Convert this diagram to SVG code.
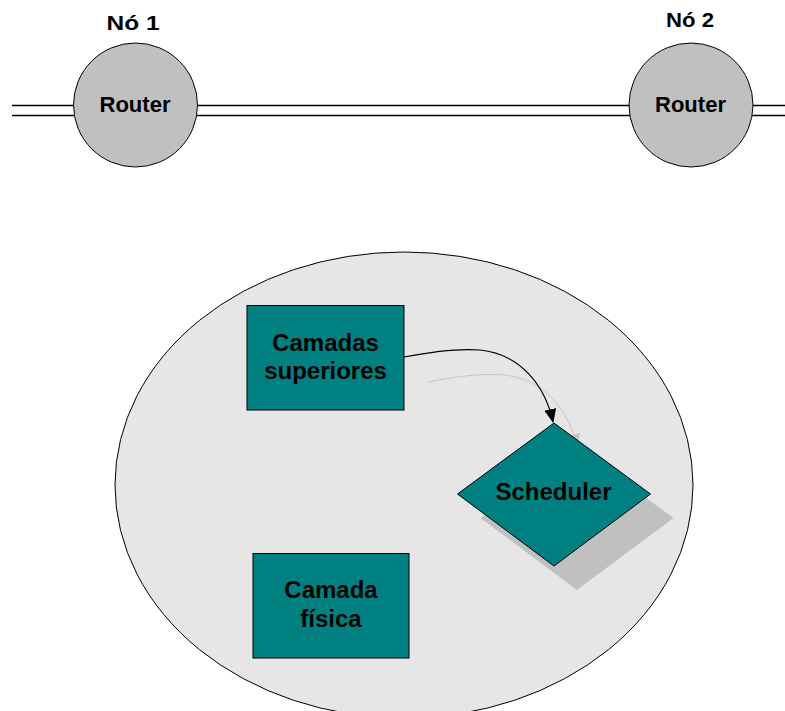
<svg xmlns="http://www.w3.org/2000/svg" width="785" height="711" viewBox="0 0 785 711">
  <defs>
    <style>
      .lbl { font-family: "Liberation Sans", Arial, sans-serif; font-weight: bold; fill: #000; text-anchor: middle; }
      .router { fill: #c0c0c0; stroke: #000; stroke-width: 1; }
      .block { fill: #008080; stroke: #000; stroke-width: 1; }
      .link { stroke: #000; stroke-width: 1.5; fill: none; }
    </style>
    <marker id="arrowBlack" viewBox="0 0 14 12" refX="13" refY="6" markerWidth="14" markerHeight="12" markerUnits="userSpaceOnUse" orient="auto">
      <path d="M0,0 L14,6 L0,12 Z" fill="#000"/>
    </marker>
    <marker id="arrowShade" viewBox="0 0 14 12" refX="13" refY="6" markerWidth="14" markerHeight="12" markerUnits="userSpaceOnUse" orient="auto">
      <path d="M0,0 L14,6 L0,12 Z" fill="#c4c4c4"/>
    </marker>
  </defs>

  <rect width="785" height="711" fill="#fff"/>

  <!-- double line network link -->
  <g id="network-link">
    <line class="link" x1="12" y1="105.5" x2="785" y2="105.5"/>
    <line class="link" x1="12" y1="115.5" x2="785" y2="115.5"/>
  </g>

  <g id="node1">
    <circle class="router" cx="135.5" cy="105" r="62"/>
    <text class="lbl" x="133" y="30" font-size="20" textLength="53" lengthAdjust="spacingAndGlyphs">Nó 1</text>
    <text class="lbl" x="135" y="112" font-size="22" textLength="71" lengthAdjust="spacingAndGlyphs">Router</text>
  </g>

  <g id="node2">
    <circle class="router" cx="691" cy="105" r="62"/>
    <text class="lbl" x="690" y="27" font-size="20" textLength="48" lengthAdjust="spacingAndGlyphs">Nó 2</text>
    <text class="lbl" x="690.5" y="112" font-size="22" textLength="71" lengthAdjust="spacingAndGlyphs">Router</text>
  </g>

  <!-- node internals -->
  <g id="node-detail">
    <ellipse cx="404" cy="485" rx="289" ry="233" fill="#e6e6e6" stroke="#000" stroke-width="1"/>
  </g>

  <g id="scheduler-shadow">
    <polygon points="577,447 673.5,518 577,590 480.5,518" fill="#c0c0c0"/>
  </g>

  <g id="connectors">
    <path d="M428,382 C454,377 479,373 504,375 C544,379 569,410 577,447" fill="none" stroke="#c8c8c8" stroke-width="1" marker-end="url(#arrowShade)"/>
  </g>

  <g id="camadas-superiores">
    <rect class="block" x="247" y="305.5" width="157" height="104.5"/>
    <text class="lbl" x="325.5" y="351" font-size="24">Camadas</text>
    <text class="lbl" x="325.5" y="379" font-size="24">superiores</text>
  </g>

  <g id="scheduler">
    <polygon class="block" points="554,423 650.5,494 554,566 457.5,494"/>
    <text class="lbl" x="553.5" y="500" font-size="24">Scheduler</text>
  </g>

  <g id="camada-fisica">
    <rect class="block" x="253" y="553.5" width="156" height="104.5"/>
    <text class="lbl" x="331" y="598" font-size="24">Camada</text>
    <text class="lbl" x="331" y="627" font-size="24">física</text>
  </g>

  <g id="connectors-front">
    <path d="M404,357 C430,352 455,348 480,350 C520,354 545,385 553,422" fill="none" stroke="#000" stroke-width="1.2" marker-end="url(#arrowBlack)"/>
  </g>
</svg>
